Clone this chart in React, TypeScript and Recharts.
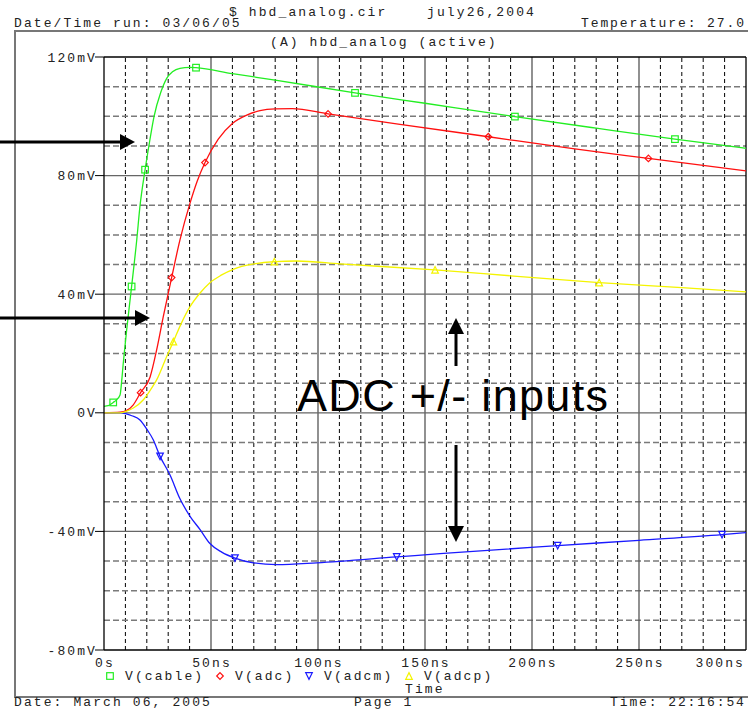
import React from 'react'
import { ComposedChart, Line, Scatter, XAxis, YAxis, ReferenceLine } from 'recharts'

type Pt = [number, number]

// axes (time in ns, voltage in mV)
const xTicks = [0, 50, 100, 150, 200, 250, 300]
const yTicks = [-80, -40, 0, 40, 80, 120]
const xMinor = [10, 20, 30, 40, 60, 70, 80, 90, 110, 120, 130, 140, 160, 170, 180, 190, 210, 220, 230, 240, 260, 270, 280, 290]
const xMajor = [50, 100, 150, 200, 250]
const yMinor = [-70, -60, -50, -30, -20, -10, 10, 20, 30, 50, 60, 70, 90, 100, 110]
const yMajor = [-40, 0, 40, 80]

// V(cable)
const cable: Pt[] = [
  [0, 2.2], [2, 2.4], [4.3, 3.5], [5.6, 4.2], [7.5, 6], [8.3, 11], [9, 16.7], [9.8, 22.4],
  [10.6, 28], [12.9, 42.6], [15.3, 58.3], [16.8, 69.6], [19.2, 82], [21.2, 91], [23.4, 100],
  [26.5, 108], [29.3, 112.8], [32, 115], [35.5, 116.2], [40, 116.5], [43, 116.4], [60, 114.4],
  [80, 112.2], [117.3, 107.9], [150, 104.4], [192, 99.9], [230, 96], [266.8, 92.3], [300, 89.2],
]
const cableMarks: Pt[] = [[4.3, 3.5], [12.9, 42.6], [19.2, 82], [43, 116.4], [117.3, 107.9], [192, 99.9], [266.8, 92.3]]

// V(adc)
const adc: Pt[] = [
  [0, 0], [7.5, 0.2], [10.6, 0.8], [13.7, 2.7], [17.1, 6.8], [21.5, 12], [24.6, 21.2], [27.7, 32.4],
  [31.6, 45.6], [35.5, 58.3], [40.2, 70.7], [43.5, 78], [47.2, 84.4], [53.4, 92.3], [60, 97.6],
  [66.7, 100.4], [72.9, 101.9], [80, 102.5], [88, 102.6], [104.7, 100.8], [138.3, 97.3],
  [179.6, 93.1], [220, 89], [254.4, 85.8], [300, 81.6],
]
const adcMarks: Pt[] = [[17.1, 6.8], [31.6, 45.6], [47.2, 84.4], [104.7, 100.8], [179.6, 93.1], [254.4, 85.8]]

// V(adcm)
const adcm: Pt[] = [
  [0, 0], [8, 0], [10, -0.3], [13, -1], [16.8, -2.4], [20, -5.5], [23, -9.1], [26.2, -14.7],
  [30.8, -20.9], [35.5, -29], [40.2, -34.9], [44.9, -39.4], [49.5, -44.1], [55, -47], [61.2, -49],
  [69.8, -50.6], [80.7, -51.2], [99.4, -50.6], [136.8, -48.6], [157, -47.5], [212, -44.8],
  [250, -43], [288.8, -41.1], [300, -40.4],
]
const adcmMarks: Pt[] = [[26.2, -14.7], [61.2, -49], [136.8, -48.6], [212, -44.8], [288.8, -41.1]]

// V(adcp)
const adcp: Pt[] = [
  [0, 0], [7.5, 0], [10, 0.4], [13.7, 1.6], [18.4, 4.4], [21.5, 7.5], [24.6, 11.1], [29.3, 19],
  [32.4, 24], [36, 30], [40.2, 35.8], [45, 40.5], [49.5, 43.9], [55, 46.5], [60.4, 48.4],
  [70, 50.2], [79.6, 51], [90, 51.2], [110.3, 50.2], [154.7, 48.2], [190, 46.2], [231.4, 43.9],
  [270, 42.2], [300, 40.8],
]
const adcpMarks: Pt[] = [[32.4, 24], [79.6, 51], [154.7, 48.2], [231.4, 43.9]]

const GREEN = '#22ee22'
const RED = '#ff1010'
const BLUE = '#1a1aff'
const YELLOW = '#f4f400'

const MONO = '"Liberation Mono", "DejaVu Sans Mono", monospace'
const monoText = { fontFamily: MONO, fontSize: 13, letterSpacing: 2.1, fill: '#222', whiteSpace: 'pre' as const }

const rows = (pts: Pt[]) => pts.map(([t, v]) => ({ t, v }))

type Kind = 'square' | 'diamond' | 'down' | 'up'

function Marker({ cx, cy, kind, color }: { cx: number; cy: number; kind: Kind; color: string }) {
  const s = 3.3
  if (kind === 'square')
    return <rect x={cx - s} y={cy - s} width={s * 2} height={s * 2} fill="none" stroke={color} strokeWidth={1.2} />
  if (kind === 'diamond')
    return <polygon points={`${cx},${cy - s} ${cx + s},${cy} ${cx},${cy + s} ${cx - s},${cy}`} fill="none" stroke={color} strokeWidth={1.2} />
  if (kind === 'down')
    return <polygon points={`${cx - s},${cy - s} ${cx + s},${cy - s} ${cx},${cy + s}`} fill="none" stroke={color} strokeWidth={1.2} />
  return <polygon points={`${cx - s},${cy + s} ${cx + s},${cy + s} ${cx},${cy - s}`} fill="none" stroke={color} strokeWidth={1.2} />
}

const shapeOf = (kind: Kind, color: string) => (p: any) => <Marker cx={p.cx} cy={p.cy} kind={kind} color={color} />

function TimeTick({ x, y, payload }: any) {
  const v = payload.value as number
  const last = v === 300
  return (
    <text x={last ? x + 9 : x + 1} y={y} dy={17} textAnchor={last ? 'end' : 'middle'} style={monoText}>
      {v === 0 ? '0s' : `${v}ns`}
    </text>
  )
}

function VoltTick({ x, y, payload }: any) {
  const v = payload.value as number
  return (
    <text x={x + 2} y={y} dy={4.5} textAnchor="end" style={monoText}>
      {v === 0 ? '0V' : `${v}mV`}
    </text>
  )
}

const series: { name: string; pts: Pt[]; marks: Pt[]; color: string; kind: Kind }[] = [
  { name: 'V(cable)', pts: cable, marks: cableMarks, color: GREEN, kind: 'square' },
  { name: 'V(adc)', pts: adc, marks: adcMarks, color: RED, kind: 'diamond' },
  { name: 'V(adcm)', pts: adcm, marks: adcmMarks, color: BLUE, kind: 'down' },
  { name: 'V(adcp)', pts: adcp, marks: adcpMarks, color: YELLOW, kind: 'up' },
]

const legendX = [110, 220, 309, 409]

export default function App() {
  return (
    <div style={{ position: 'absolute', left: 0, top: 0, width: 748, height: 710, background: '#fff', overflow: 'hidden' }}>
      <div style={{ position: 'absolute', left: 0, top: 0 }}>
        <ComposedChart width={748} height={710} margin={{ top: 57, right: 2, bottom: 0, left: 0 }}>
          {xMinor.map((t) => (
            <ReferenceLine key={`xm${t}`} x={t} stroke="#000" strokeWidth={1} strokeDasharray="4 3" />
          ))}
          {yMinor.map((v) => (
            <ReferenceLine key={`ym${v}`} y={v} stroke="#7a7a7a" strokeWidth={1.5} strokeDasharray="6 3" />
          ))}
          {xMajor.map((t) => (
            <ReferenceLine key={`xM${t}`} x={t} stroke="#555" strokeWidth={1.3} />
          ))}
          {yMajor.map((v) => (
            <ReferenceLine key={`yM${v}`} y={v} stroke="#666" strokeWidth={1.3} />
          ))}
          <ReferenceLine y={120} stroke="#000" strokeWidth={1.3} />
          <ReferenceLine x={300} stroke="#000" strokeWidth={1.3} />
          <XAxis
            dataKey="t"
            type="number"
            domain={[0, 300]}
            ticks={xTicks}
            tick={<TimeTick />}
            tickLine={false}
            tickSize={0}
            tickMargin={0}
            height={60}
            axisLine={{ stroke: '#000', strokeWidth: 1.3 }}
            allowDataOverflow
          />
          <YAxis
            dataKey="v"
            type="number"
            domain={[-80, 120]}
            ticks={yTicks}
            tick={<VoltTick />}
            tickLine={{ stroke: '#000' }}
            tickSize={9}
            tickMargin={0}
            width={104}
            axisLine={{ stroke: '#000', strokeWidth: 1.3 }}
            allowDataOverflow
          />
          {series.map((s) => (
            <Line
              key={s.name}
              data={rows(s.pts)}
              dataKey="v"
              type="monotone"
              stroke={s.color}
              strokeWidth={1.3}
              dot={false}
              isAnimationActive={false}
            />
          ))}
          {series.map((s) => (
            <Scatter
              key={`m${s.name}`}
              data={rows(s.marks)}
              dataKey="v"
              shape={shapeOf(s.kind, s.color)}
              isAnimationActive={false}
            />
          ))}
        </ComposedChart>
      </div>

      {/* page frame */}
      <div
        style={{
          position: 'absolute', left: 14, top: 30, width: 760, height: 664,
          borderLeft: '2px solid #777', borderTop: '2px solid #777', borderBottom: '2px solid #777',
        }}
      />

      <svg width={748} height={710} style={{ position: 'absolute', left: 0, top: 0, pointerEvents: 'none' }}>
        {/* header */}
        <text x={229} y={16} style={monoText}>{'$ hbd_analog.cir    july26,2004'}</text>
        <text x={14} y={27} style={monoText}>Date/Time run: 03/06/05</text>
        <text x={581} y={27} style={{ ...monoText, letterSpacing: 1.9 }}>Temperature: 27.0</text>
        <text x={270} y={46} style={monoText}>(A) hbd_analog (active)</text>

        {/* legend */}
        {series.map((s, i) => (
          <g key={s.name}>
            <Marker cx={legendX[i]} cy={676} kind={s.kind} color={s.color} />
            <text x={legendX[i] + 15} y={680} style={monoText}>{s.name}</text>
          </g>
        ))}
        <text x={405} y={693} style={monoText}>Time</text>

        {/* footer */}
        <text x={14} y={706} style={monoText}>Date: March 06, 2005</text>
        <text x={354} y={706} style={monoText}>Page 1</text>
        <text x={610} y={706} style={{ ...monoText, letterSpacing: 1.9 }}>Time: 22:16:54</text>

        {/* annotation */}
        <text x={297} y={411} textLength={311} lengthAdjust="spacing" style={{ fontFamily: '"Liberation Sans", Arial, sans-serif', fontSize: 45, fill: '#000' }}>
          ADC +/- inputs
        </text>
        <line x1={0} y1={142} x2={122} y2={142} stroke="#000" strokeWidth={3} />
        <polygon points="120,134 135,142 120,150" fill="#000" />
        <line x1={0} y1={318} x2={137} y2={318} stroke="#000" strokeWidth={3} />
        <polygon points="135,310 150,318 135,326" fill="#000" />
        <line x1={456} y1={366} x2={456} y2={332} stroke="#000" strokeWidth={3} />
        <polygon points="448,334 456,318 464,334" fill="#000" />
        <line x1={456} y1={445} x2={456} y2={528} stroke="#000" strokeWidth={3} />
        <polygon points="448,526 456,542 464,526" fill="#000" />
      </svg>
    </div>
  )
}
